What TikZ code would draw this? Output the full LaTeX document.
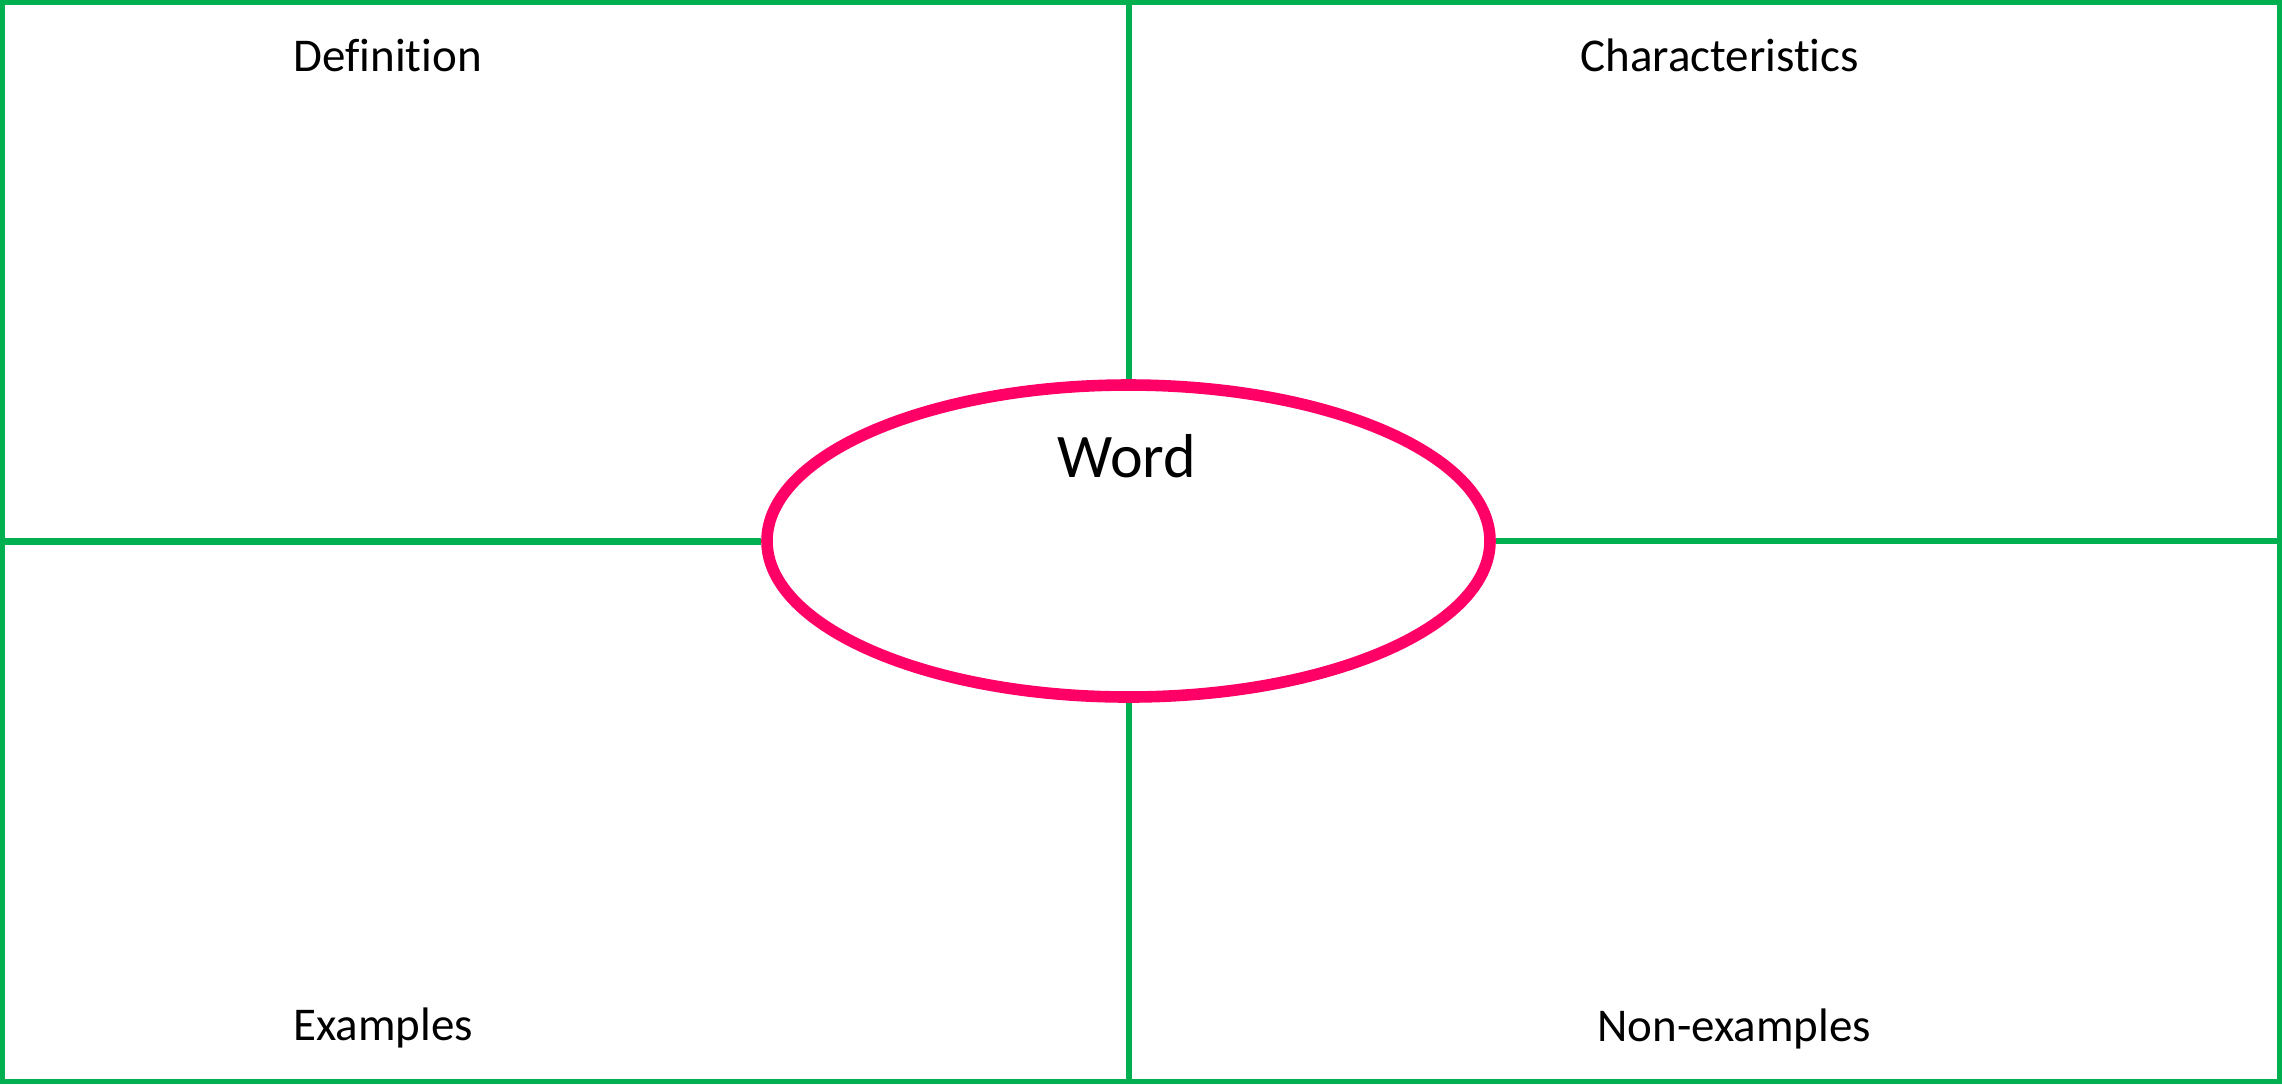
\documentclass[tikz,border=0pt]{standalone}
\usepackage{fontspec}
\setmainfont{Carlito}[Ligatures=NoCommon]
\usetikzlibrary{shapes.geometric}
\definecolor{green}{HTML}{00B050}
\definecolor{pink}{HTML}{FF0066}

\begin{document}
\begin{tikzpicture}[x=0.5pt,y=-0.5pt,every node/.style={font=\fontsize{23.5}{28}\selectfont,inner sep=0pt}]
\useasboundingbox (0,0) rectangle (2282,1084);
\node[draw=green,line width=2.5pt,minimum width=1138.5pt,minimum height=539.5pt] (box) at (1141,542) {};
\node[draw=pink,line width=5.8pt,ellipse,minimum width=361.5pt,minimum height=156pt] (word) at (1128.5,541) {};
\draw[green,line width=3pt] (word.north)--(word.north |- box.north);\draw[green,line width=3pt] (word.south)--(word.south |- box.south);
\draw[green,line width=3.5pt] (word.west)--(word.west -| box.west);\draw[green,line width=3pt] (word.east)--(word.east -| box.east);
\node[anchor=base west] (def) at (293,71.5) {Definition};
\node[anchor=base west] (char) at (1580,71) {Characteristics};
\node[anchor=base west] (ex) at (293,1040) {Examples};
\node[anchor=base west] (nonex) at (1597,1041) {Non-examples};
\node[anchor=base west,font=\fontsize{31}{36}\selectfont] (label) at (1057,477) {Word};
\end{tikzpicture}
\end{document}
